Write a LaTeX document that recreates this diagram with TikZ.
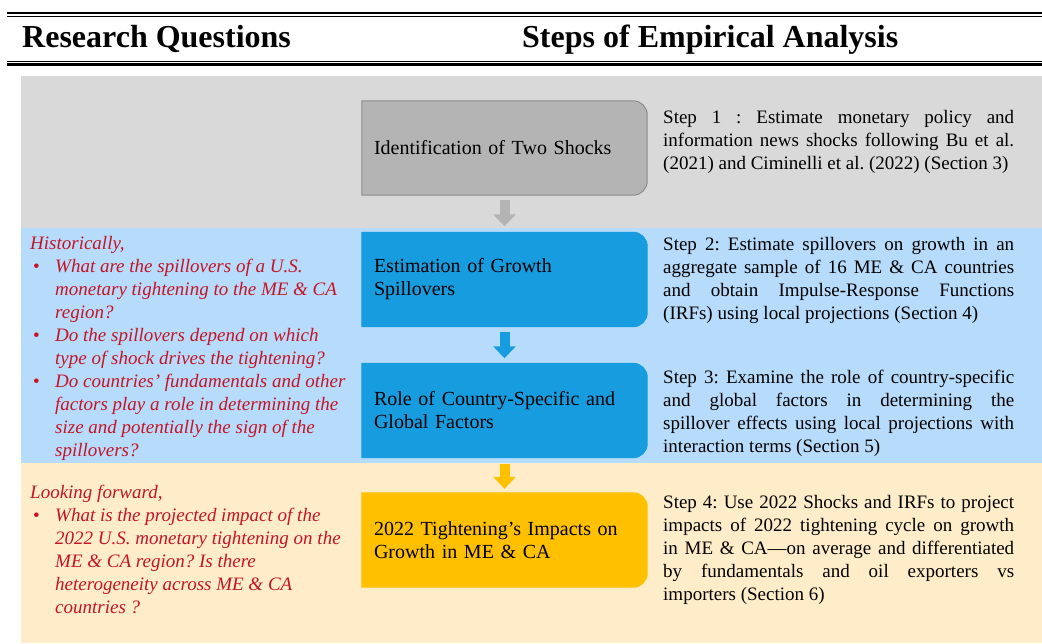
\documentclass[tikz,border=0pt]{standalone}
\usepackage{fontspec}
\setmainfont{Liberation Serif}
\usetikzlibrary{arrows.meta}
\usetikzlibrary{backgrounds}
\frenchspacing

\definecolor{bandgray}{HTML}{D9D9D9}
\definecolor{bandblue}{HTML}{B7DBFB}
\definecolor{bandcream}{HTML}{FFEDC9}
\definecolor{boxgray}{HTML}{B4B4B4}
\definecolor{boxline}{HTML}{8C8C8C}
\definecolor{boxblue}{HTML}{179DDF}
\definecolor{boxgold}{HTML}{FFC000}
\definecolor{qred}{HTML}{C41426}

\begin{document}
\begin{tikzpicture} [x=1pt, y=-1pt,
        stepbox/.style={minimum width=285pt, minimum height=94pt, inner xsep=12pt, inner ysep=0pt,
            text width=261pt, align=left, font=\fontsize{20}{23}\selectfont},
        steptext/.style={anchor=north west, inner sep=0pt, text width=351pt, align=justify,
            font=\fontsize{19}{23}\selectfont},
        question/.style={anchor=north west, inner sep=0pt, align=left, text=qred,
            font=\fontsize{19}{23}\selectfont\itshape},
        head/.style={anchor=base west, inner sep=0pt, font=\fontsize{32}{36}\selectfont\bfseries},
        flow/.style={line width=10pt, -{Triangle[width=22pt,length=12pt]}}]
            \useasboundingbox (0,0) rectangle (1042,643);

            % header rules
            \draw[line width=2.5pt] (7,13) -- (1042,13);
            \draw[line width=1pt] (7,16.5) -- (1042,16.5);
            \draw[line width=1pt] (7,61) -- (1042,61);
            \draw[line width=2.5pt] (7,64.5) -- (1042,64.5);
            \node[head] (rq) at (22,47) {Research Questions};
            \node[head] (sea) at (522,47) {Steps of Empirical Analysis};

            % steps
            \node[stepbox] (shocks) at (504.5,148)     {Identification of Two Shocks};
            \node[stepbox] (growth) at (504.5,279.5)   {Estimation of Growth\\Spillovers};
            \node[stepbox] (factors) at (504.5,410.5)  {Role of Country-Specific and\\Global Factors};
            \node[stepbox] (impact) at (504.5,540)     {2022 Tightening's Impacts on\\Growth in ME \& CA};

            \node[steptext] (step1) at (663,110) {Step 1 : Estimate monetary policy and\linebreak
                information news shocks following Bu et al.\linebreak
                (2021) and Ciminelli et al. (2022) (Section 3)};
            \node[steptext] (step2) at (663,237) {Step 2: Estimate spillovers on growth in an\linebreak
                aggregate sample of 16 ME \& CA countries\linebreak
                and obtain Impulse-Response Functions\linebreak
                (IRFs) using local projections (Section 4)};
            \node[steptext] (step3) at (663,370) {Step 3: Examine the role of country-specific\linebreak
                and global factors in determining the\linebreak
                spillover effects using local projections with\linebreak
                interaction terms (Section 5)};
            \node[steptext] (step4) at (663,495) {Step 4: Use 2022 Shocks and IRFs to project\linebreak
                impacts of 2022 tightening cycle on growth\linebreak
                in ME \& CA---on average and differentiated\linebreak
                by fundamentals and oil exporters vs\linebreak
                importers (Section 6)};

            % questions
            \node[question] (hist) at (30,236) {Historically,\\
                \makebox[25pt][l]{\hspace{3pt}\upshape\textbullet}What are the spillovers of a U.S.\\
                \hspace*{25pt}monetary tightening to the ME \& CA\\
                \hspace*{25pt}region?\\
                \makebox[25pt][l]{\hspace{3pt}\upshape\textbullet}Do the spillovers depend on which\\
                \hspace*{25pt}type of shock drives the tightening?\\
                \makebox[25pt][l]{\hspace{3pt}\upshape\textbullet}Do countries' fundamentals and other\\
                \hspace*{25pt}factors play a role in determining the\\
                \hspace*{25pt}size and potentially the sign of the\\
                \hspace*{25pt}spillovers?};
            \node[question] (fwd) at (30,485) {Looking forward,\\
                \makebox[25pt][l]{\hspace{3pt}\upshape\textbullet}What is the projected impact of the\\
                \hspace*{25pt}2022 U.S. monetary tightening on the\\
                \hspace*{25pt}ME \& CA region? Is there\\
                \hspace*{25pt}heterogeneity across ME \& CA\\
                \hspace*{25pt}countries ?};

            \draw[flow, draw=boxgray, shorten <=5pt, shorten >=6pt] (shocks) -- (growth);
            \draw[flow, draw=boxblue, shorten <=5pt, shorten >=5pt] (growth) -- (factors);
            \draw[flow, draw=boxgold, shorten <=6pt, shorten >=4pt] (factors) -- (impact);

            \begin{scope}[on background layer]
                \fill[bandgray] (21,76) rectangle (1042,228);
                \fill[bandblue] (21,228) rectangle (1042,463);
                \fill[bandcream] (21,463) rectangle (1042,643);
                \foreach \n/\c/\d in {shocks/boxgray/boxline, growth/boxblue/boxblue,
                        factors/boxblue/boxblue, impact/boxgold/boxgold}
                    \filldraw[fill=\c, draw=\d, line width=1pt] (\n.south west) -- (\n.north west)
                        -- ([xshift=-14pt]\n.north east) arc[start angle=90, end angle=0, radius=14pt]
                        -- ([yshift=14pt]\n.south east) arc[start angle=0, end angle=-90, radius=14pt]
                        -- cycle;
            \end{scope}
        \end{tikzpicture}
\end{document}
